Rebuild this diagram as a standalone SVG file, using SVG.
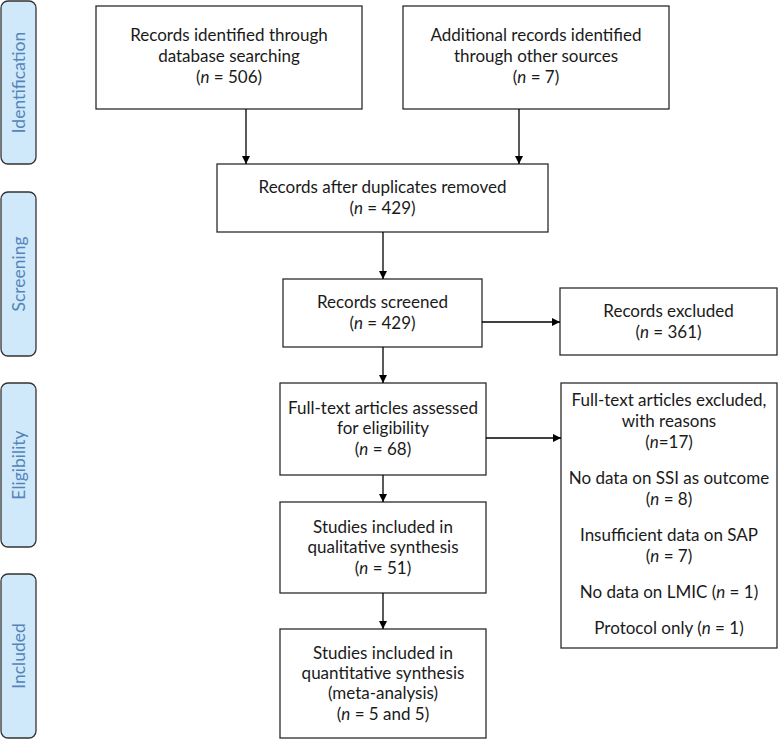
<svg xmlns="http://www.w3.org/2000/svg" width="778" height="739" viewBox="0 0 778 739">
<defs>
<style>
.box{fill:#fff;stroke:#2b2b2b;stroke-width:1.3}
.side{fill:#cfe9fb;stroke:#333;stroke-width:1.3}
.t{font-family:Lato,"Open Sans","Liberation Sans",sans-serif;font-size:17px;fill:#1a1a1a;text-anchor:middle}
.st{font-family:Lato,"Open Sans","Liberation Sans",sans-serif;font-size:17.5px;fill:#5584b8;text-anchor:middle}
.c{stroke:#000;stroke-width:1.3;fill:none;marker-end:url(#ah)}
</style>
<marker id="ah" viewBox="0 0 10 10" refX="10" refY="5" markerWidth="8" markerHeight="8" markerUnits="userSpaceOnUse" orient="auto">
<path d="M0,0 L10,5 L0,10 z" fill="#000"/>
</marker>
</defs>
<g id="stage-identification"><rect class="side" x="1" y="1" width="35" height="163" rx="7"/><text class="st" transform="translate(25,82.5) rotate(-90)">Identification</text></g>
<g id="stage-screening"><rect class="side" x="1" y="192" width="35" height="164" rx="7"/><text class="st" transform="translate(25,274) rotate(-90)">Screening</text></g>
<g id="stage-eligibility"><rect class="side" x="1" y="383" width="35" height="164" rx="7"/><text class="st" transform="translate(25,465) rotate(-90)">Eligibility</text></g>
<g id="stage-included"><rect class="side" x="1" y="574" width="35" height="164" rx="7"/><text class="st" transform="translate(25,656) rotate(-90)">Included</text></g>

<g id="db-search"><rect class="box" x="96" y="6" width="266" height="103"/>
<text class="t" x="229" y="41">Records identified through</text>
<text class="t" x="229" y="62">database searching</text>
<text class="t" x="229" y="83">(<tspan font-style="italic">n</tspan> = 506)</text></g>

<g id="other-sources"><rect class="box" x="403" y="6" width="266" height="103"/>
<text class="t" x="536" y="41">Additional records identified</text>
<text class="t" x="536" y="62">through other sources</text>
<text class="t" x="536" y="83">(<tspan font-style="italic">n</tspan> = 7)</text></g>

<g id="dedup"><rect class="box" x="217" y="164" width="331" height="68"/>
<text class="t" x="382.5" y="193">Records after duplicates removed</text>
<text class="t" x="382.5" y="214">(<tspan font-style="italic">n</tspan> = 429)</text></g>

<g id="screened"><rect class="box" x="283" y="279" width="199" height="68"/>
<text class="t" x="382.5" y="308">Records screened</text>
<text class="t" x="382.5" y="329">(<tspan font-style="italic">n</tspan> = 429)</text></g>

<g id="excluded"><rect class="box" x="560" y="288" width="217" height="67"/>
<text class="t" x="668.5" y="317">Records excluded</text>
<text class="t" x="668.5" y="338">(<tspan font-style="italic">n</tspan> = 361)</text></g>

<g id="fulltext"><rect class="box" x="280" y="383" width="206" height="92"/>
<text class="t" x="383" y="414">Full-text articles assessed</text>
<text class="t" x="383" y="434">for eligibility</text>
<text class="t" x="383" y="455">(<tspan font-style="italic">n</tspan> = 68)</text></g>

<g id="ft-excluded"><rect class="box" x="561" y="383" width="216" height="265"/>
<text class="t" x="669" y="406">Full-text articles excluded,</text>
<text class="t" x="669" y="427">with reasons</text>
<text class="t" x="669" y="448">(<tspan font-style="italic">n</tspan>=17)</text>
<text class="t" x="669" y="484">No data on SSI as outcome</text>
<text class="t" x="669" y="505">(<tspan font-style="italic">n</tspan> = 8)</text>
<text class="t" x="669" y="541">Insufficient data on SAP</text>
<text class="t" x="669" y="562">(<tspan font-style="italic">n</tspan> = 7)</text>
<text class="t" x="669" y="598">No data on LMIC (<tspan font-style="italic">n</tspan> = 1)</text>
<text class="t" x="669" y="634">Protocol only (<tspan font-style="italic">n</tspan> = 1)</text></g>

<g id="qualitative"><rect class="box" x="280" y="502" width="206" height="91"/>
<text class="t" x="383" y="533">Studies included in</text>
<text class="t" x="383" y="553">qualitative synthesis</text>
<text class="t" x="383" y="574">(<tspan font-style="italic">n</tspan> = 51)</text></g>

<g id="quantitative"><rect class="box" x="280" y="629" width="206" height="109"/>
<text class="t" x="383" y="659">Studies included in</text>
<text class="t" x="383" y="679">quantitative synthesis</text>
<text class="t" x="383" y="699">(meta-analysis)</text>
<text class="t" x="383" y="720">(<tspan font-style="italic">n</tspan> = 5 and 5)</text></g>

<g id="connectors">
<line class="c" x1="246" y1="109" x2="246" y2="164"/>
<line class="c" x1="519" y1="109" x2="519" y2="164"/>
<line class="c" x1="383" y1="232" x2="383" y2="279"/>
<line class="c" x1="482" y1="322" x2="560" y2="322"/>
<line class="c" x1="383" y1="347" x2="383" y2="383"/>
<line class="c" x1="486" y1="438" x2="561" y2="438"/>
<line class="c" x1="383" y1="475" x2="383" y2="502"/>
<line class="c" x1="383" y1="593" x2="383" y2="629"/>
</g>
</svg>
